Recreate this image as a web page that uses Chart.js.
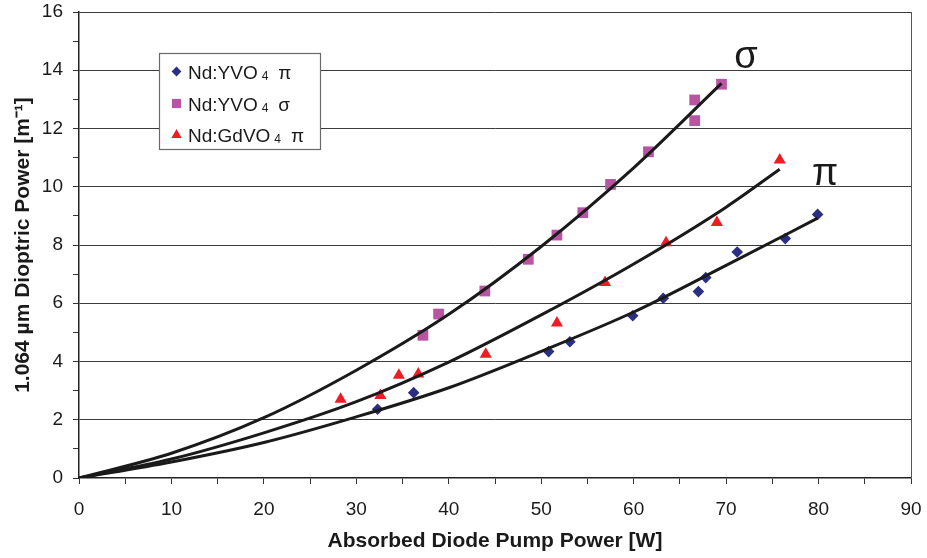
<!DOCTYPE html>
<html>
<head>
<meta charset="utf-8">
<script src="https://cdn.jsdelivr.net/npm/chart.js@4.4.1/dist/chart.umd.min.js"></script>
<style>
  html, body { margin: 0; padding: 0; background: #ffffff; }
  #wrap { width: 927px; height: 558px; }
</style>
</head>
<body>
<div id="wrap"><canvas id="c" width="927" height="558"></canvas></div>
<script>
// Measured points: absorbed pump power [W] vs. thermal lens dioptric power [1/m]
const yvoPiPower       = [32.3, 36.2, 50.8, 53.1, 59.9, 63.2, 67.0, 67.8, 71.2, 76.4, 79.9];
const yvoPiDioptric    = [2.36, 2.93, 4.34, 4.68, 5.57, 6.17, 6.40, 6.88, 7.76, 8.22, 9.05];
const yvoSigmaPower    = [37.2, 38.9, 43.9, 48.6, 51.7, 54.5, 57.5, 61.6, 66.6, 66.6, 69.5];
const yvoSigmaDioptric = [4.90, 5.63, 6.42, 7.51, 8.34, 9.11, 10.08, 11.20, 12.27, 12.98, 13.52];
const gdvoPiPower      = [28.3, 32.6, 34.6, 36.7, 44.0, 51.7, 56.9, 63.5, 69.0, 75.8];
const gdvoPiDioptric   = [2.70, 2.83, 3.53, 3.57, 4.25, 5.32, 6.71, 8.08, 8.77, 10.92];

// Trend curves through the origin, sampled along each fit
const sigmaFitPower    = [0, 10, 20, 30, 40, 50, 60, 69.5];
const sigmaFitDioptric = [0, 0.85, 2.07, 3.70, 5.62, 7.95, 10.65, 13.55];
const gdPiFitPower     = [0, 10, 20, 30, 40, 50, 60, 70, 75.8];
const gdPiFitDioptric  = [0, 0.65, 1.55, 2.62, 3.98, 5.60, 7.35, 9.30, 10.60];
const yvoPiFitPower    = [0, 10, 20, 30, 40, 50, 60, 70, 79.9];
const yvoPiFitDioptric = [0, 0.55, 1.22, 2.10, 3.10, 4.35, 5.70, 7.30, 8.92];

// Axis tick labels
const xTickLabels = [0, 10, 20, 30, 40, 50, 60, 70, 80, 90];
const yTickLabels = [0, 2, 4, 6, 8, 10, 12, 14, 16];

// Series names (crystal, subscript, polarisation) and curve tags (baseline positions)
const seriesCrystal = ['Nd:YVO', 'Nd:YVO', 'Nd:GdVO'];
const seriesSub     = ['4', '4', '4'];
const seriesPol     = ['\u03C0', '\u03C3', '\u03C0'];
const curveTags     = [{ text: '\u03C3', x: 72.15, y: 14.08 }, { text: '\u03C0', x: 80.7, y: 10.06 }];

const NAVY = '#2b2f84';
const ORCHID = '#b954a3';
const RED = '#ee1c25';
const FONT = "'Liberation Sans', Arial, sans-serif";

const zip = (xs, ys) => xs.map((x, i) => ({ x: x, y: ys[i] }));

const markerStyles = [
  { pointStyle: 'rectRot', radius: 5.8, color: NAVY },
  { pointStyle: 'rect', radius: 7.6, color: ORCHID },
  { pointStyle: 'triangle', radius: 7, color: RED }
];

const fitLine = (data) => ({
  type: 'line', data: data, borderColor: '#1a1a1a', borderWidth: 3,
  pointRadius: 0, fill: false, cubicInterpolationMode: 'monotone', order: 0
});
const scatterSet = (data, m) => ({
  type: 'scatter', data: data, backgroundColor: m.color, borderWidth: 0,
  pointStyle: m.pointStyle, pointRadius: m.radius, pointHoverRadius: m.radius, order: 1
});

// Legend box, plot frame edge and curve tags drawn on the canvas
const legendAndTags = {
  id: 'legendAndTags',
  afterDraw(chart) {
    const ctx = chart.ctx;
    const xs = chart.scales.x, ys = chart.scales.y;
    const area = chart.chartArea;
    ctx.save();
    ctx.strokeStyle = '#555555';
    ctx.lineWidth = 1;
    ctx.beginPath();
    ctx.moveTo(Math.round(area.right) + 0.5, area.top);
    ctx.lineTo(Math.round(area.right) + 0.5, area.bottom);
    ctx.stroke();

    const bx = 159.5, by = 53.5, bw = 161, bh = 96;
    ctx.fillStyle = '#ffffff';
    ctx.fillRect(bx, by, bw, bh);
    ctx.strokeStyle = '#6a6a6a';
    ctx.lineWidth = 1.2;
    ctx.strokeRect(bx, by, bw, bh);
    const rows = [71.5, 103.5, 135];
    for (let i = 0; i < 3; i++) {
      const m = markerStyles[i];
      ctx.fillStyle = m.color;
      Chart.helpers.drawPoint(ctx, { pointStyle: m.pointStyle, radius: m.radius * 0.85, rotation: 0, borderWidth: 0 }, 176.5, rows[i]);
      ctx.fillStyle = '#1a1a1a';
      ctx.textBaseline = 'alphabetic';
      ctx.textAlign = 'left';
      ctx.font = '19px ' + FONT;
      const base = rows[i] + 7;
      ctx.fillText(seriesCrystal[i], 188, base);
      let x = 188 + ctx.measureText(seriesCrystal[i]).width + 4;
      ctx.font = '12px ' + FONT;
      ctx.fillText(seriesSub[i], x, base + 1);
      x += ctx.measureText(seriesSub[i]).width + 10;
      ctx.font = '19px ' + FONT;
      ctx.fillText(seriesPol[i], x, base);
    }

    ctx.fillStyle = '#1a1a1a';
    ctx.font = '38px ' + FONT;
    ctx.textAlign = 'center';
    ctx.textBaseline = 'alphabetic';
    curveTags.forEach(t => ctx.fillText(t.text, xs.getPixelForValue(t.x), ys.getPixelForValue(t.y)));
    ctx.restore();
  }
};

new Chart(document.getElementById('c'), {
  data: {
    datasets: [
      fitLine(zip(sigmaFitPower, sigmaFitDioptric)),
      fitLine(zip(gdPiFitPower, gdPiFitDioptric)),
      fitLine(zip(yvoPiFitPower, yvoPiFitDioptric)),
      scatterSet(zip(yvoPiPower, yvoPiDioptric), markerStyles[0]),
      scatterSet(zip(yvoSigmaPower, yvoSigmaDioptric), markerStyles[1]),
      scatterSet(zip(gdvoPiPower, gdvoPiDioptric), markerStyles[2])
    ]
  },
  options: {
    responsive: false,
    animation: false,
    events: [],
    layout: { padding: { top: 12, right: 16, left: 0, bottom: 0 } },
    plugins: { legend: { display: false }, tooltip: { enabled: false } },
    scales: {
      x: {
        type: 'linear', min: 0, max: 90,
        afterFit: (s) => { s.height = 80; s.paddingLeft = 0; s.paddingRight = 0; },
        afterBuildTicks: (s) => { s.ticks = []; for (let v = 0; v <= 90; v += 5) s.ticks.push({ value: v }); },
        ticks: {
          autoSkip: false, maxRotation: 0, padding: 14, color: '#1a1a1a',
          font: { family: FONT, size: 19 },
          callback: (v) => xTickLabels.includes(v) ? String(v) : ''
        },
        grid: { drawOnChartArea: false, tickLength: 6, tickColor: '#333333', tickWidth: 1 },
        border: { color: '#222222', width: 1.5 },
        title: {
          display: true, text: 'Absorbed Diode Pump Power [W]', color: '#1a1a1a',
          font: { family: FONT, size: 21, weight: 'bold', lineHeight: 1.2 },
          padding: { top: 0, bottom: 4 }
        }
      },
      y: {
        type: 'linear', min: 0, max: 16,
        afterFit: (s) => { s.width = 79; s.paddingTop = 0; s.paddingBottom = 0; },
        afterBuildTicks: (s) => { s.ticks = []; for (let v = 0; v <= 16; v += 1) s.ticks.push({ value: v }); },
        ticks: {
          autoSkip: false, padding: 10, color: '#1a1a1a',
          font: { family: FONT, size: 19 },
          callback: (v) => yTickLabels.includes(v) ? String(v) : ''
        },
        grid: {
          tickLength: 6, tickColor: '#333333', lineWidth: 1,
          color: (c) => (c.tick && c.tick.value % 2 === 0 && c.tick.value > 0) ? '#3c3c3c' : 'rgba(0,0,0,0)'
        },
        border: { color: '#222222', width: 1.5 },
        title: {
          display: true, text: '1.064 \u00B5m Dioptric Power [m\u207B\u00B9]', color: '#1a1a1a',
          font: { family: FONT, size: 21, weight: 'bold', lineHeight: 1.2 },
          padding: { top: 11, bottom: 0 }
        }
      }
    }
  },
  plugins: [legendAndTags]
});
</script>
</body>
</html>
